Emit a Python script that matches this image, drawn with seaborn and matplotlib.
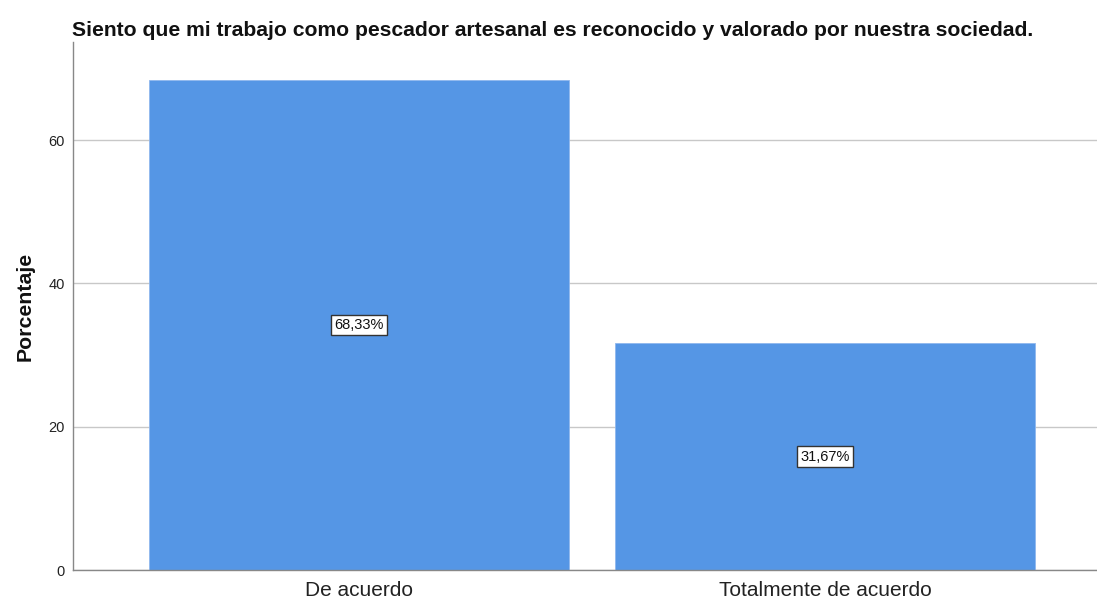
import pandas as pd
import matplotlib.pyplot as plt
import seaborn as sns

# Data
categories = ['De acuerdo', 'Totalmente de acuerdo']
percentages = [68.33, 31.67]
bar_labels = ['68,33%', '31,67%']

df = pd.DataFrame({'categoria': categories, 'porcentaje': percentages})

sns.set_style('white')
plt.rcParams['font.family'] = ['Liberation Sans', 'DejaVu Sans']

fig = plt.figure(figsize=(10.97, 6), dpi=100)
ax = fig.add_axes([0.0665, 0.05, 0.9335, 0.88])

sns.barplot(data=df, x='categoria', y='porcentaje', color='#5596e5',
            saturation=1, width=0.9, edgecolor='#8fb8ee', linewidth=0.6, ax=ax)

# Boxed value labels in the middle of each bar
for i, (val, lab) in enumerate(zip(percentages, bar_labels)):
    ax.text(i, val / 2, lab, ha='center', va='center', fontsize=10.5, color='#111111',
            bbox=dict(boxstyle='square,pad=0.22', facecolor='white',
                      edgecolor='#333333', linewidth=1))

ax.set_xlim(-0.614, 1.584)
ax.set_ylim(0, 73.7)
ax.set_yticks([0, 20, 40, 60])
ax.yaxis.grid(True, color='#c8c8c8', linewidth=1)
ax.set_axisbelow(True)

for side in ['top', 'right']:
    ax.spines[side].set_visible(False)
for side in ['left', 'bottom']:
    ax.spines[side].set_color('#888888')
    ax.spines[side].set_linewidth(1)

ax.tick_params(axis='y', length=0, labelsize=10.5, pad=6, labelcolor='#222222')
ax.tick_params(axis='x', length=0, labelsize=15, pad=8, labelcolor='#222222')
ax.set_xlabel('')
ax.set_ylabel('Porcentaje', fontsize=15.3, fontweight='bold', labelpad=10, color='#111111')
ax.set_title('Siento que mi trabajo como pescador artesanal es reconocido y valorado por nuestra sociedad.',
             fontsize=15.2, fontweight='bold', loc='left', x=-0.001, pad=4, color='#111111')

fig.savefig('out.png', dpi=100)
